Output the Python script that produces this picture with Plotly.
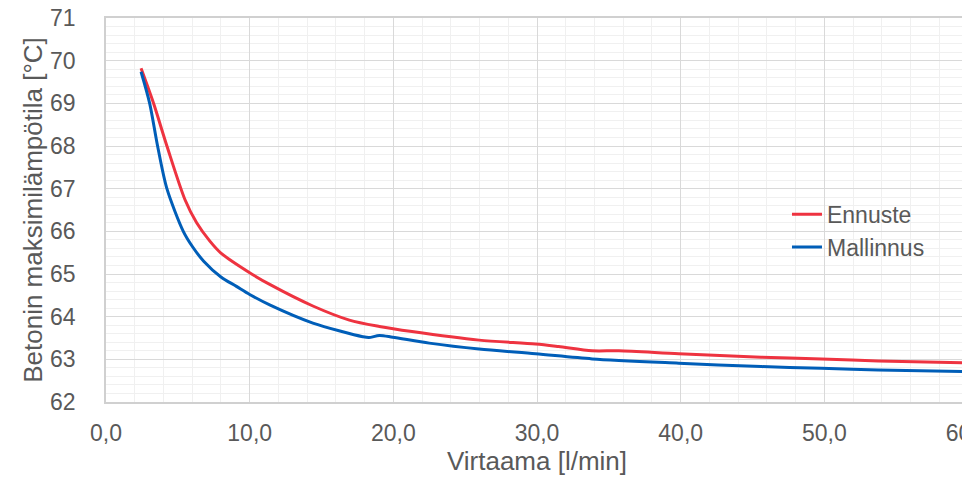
import plotly.graph_objects as go

# Ennuste (prediction)
x_ennuste = [2.44, 3.31, 4.24, 5.5, 6.31, 7.23, 8.0, 10.0, 11.43, 14.4, 16.94, 19.03, 21.3, 25.97, 29.9, 31.5, 33.84, 35.7, 39.86, 45.6, 49.8, 53.75, 60.0]
y_ennuste = [69.82, 69.0, 68.0, 66.74, 66.2, 65.77, 65.49, 65.03, 64.75, 64.25, 63.92, 63.77, 63.65, 63.45, 63.36, 63.30, 63.20, 63.20, 63.13, 63.05, 63.01, 62.96, 62.92]

# Mallinnus (modelling)
x_mallinnus = [2.44, 3.04, 3.59, 4.24, 5.38, 6.0, 6.8, 8.0, 9.08, 10.0, 11.43, 14.4, 17.87, 18.3, 19.03, 19.95, 22.5, 25.97, 29.9, 33.84, 39.86, 45.6, 49.8, 53.75, 60.0]
y_mallinnus = [69.74, 69.0, 68.0, 67.0, 66.0, 65.65, 65.30, 64.93, 64.71, 64.52, 64.27, 63.85, 63.53, 63.51, 63.56, 63.52, 63.38, 63.24, 63.13, 63.01, 62.91, 62.83, 62.79, 62.75, 62.71]

x_tickvals = [0, 10, 20, 30, 40, 50, 60]
x_ticktext = ["0,0", "10,0", "20,0", "30,0", "40,0", "50,0", "60,0"]
y_tickvals = [62, 63, 64, 65, 66, 67, 68, 69, 70, 71]

fig = go.Figure()
fig.add_trace(go.Scatter(x=x_ennuste, y=y_ennuste, mode="lines", name="Ennuste",
                         line=dict(color="#EE3340", width=3, shape="spline", smoothing=0.8)))
fig.add_trace(go.Scatter(x=x_mallinnus, y=y_mallinnus, mode="lines", name="Mallinnus",
                         line=dict(color="#005EB8", width=3, shape="spline", smoothing=0.8)))

font_col = "#595959"
fig.update_layout(
    width=962, height=474,
    margin=dict(l=98, r=2, t=10, b=80),
    paper_bgcolor="white", plot_bgcolor="white",
    font=dict(family="Liberation Sans, Arial, sans-serif", color=font_col, size=24),
    showlegend=True,
    legend=dict(x=0.79, y=0.545, xanchor="left", yanchor="top",
                bgcolor="rgba(0,0,0,0)", font=dict(size=23, color=font_col),
                tracegroupgap=0),
    xaxis=dict(range=[0, 60], tickvals=x_tickvals, ticktext=x_ticktext,
               showgrid=True, gridcolor="#d9d9d9", gridwidth=1,
               minor=dict(dtick=2, showgrid=True, gridcolor="#f0f0f0", gridwidth=1),
               showline=True, mirror=True, linecolor="#d0d0d0", linewidth=1.5,
               ticks="", zeroline=False, ticklabelstandoff=10,
               ticklabeloverflow="allow", automargin=False,
               tickfont=dict(size=23, color=font_col),
               title=dict(text="Virtaama [l/min]", font=dict(size=26, color=font_col), standoff=6)),
    yaxis=dict(range=[62, 71], tickvals=y_tickvals,
               showgrid=True, gridcolor="#d9d9d9", gridwidth=1,
               minor=dict(dtick=0.2, showgrid=True, gridcolor="#f0f0f0", gridwidth=1),
               showline=True, mirror=True, linecolor="#d0d0d0", linewidth=1.5,
               ticks="", zeroline=False, ticklabelstandoff=24, automargin=False,
               ticklabeloverflow="allow",
               tickfont=dict(size=23, color=font_col),
               title=dict(text="Betonin maksimilämpötila [°C]", font=dict(size=26, color=font_col), standoff=0)),
)

fig.write_html("out.html")
